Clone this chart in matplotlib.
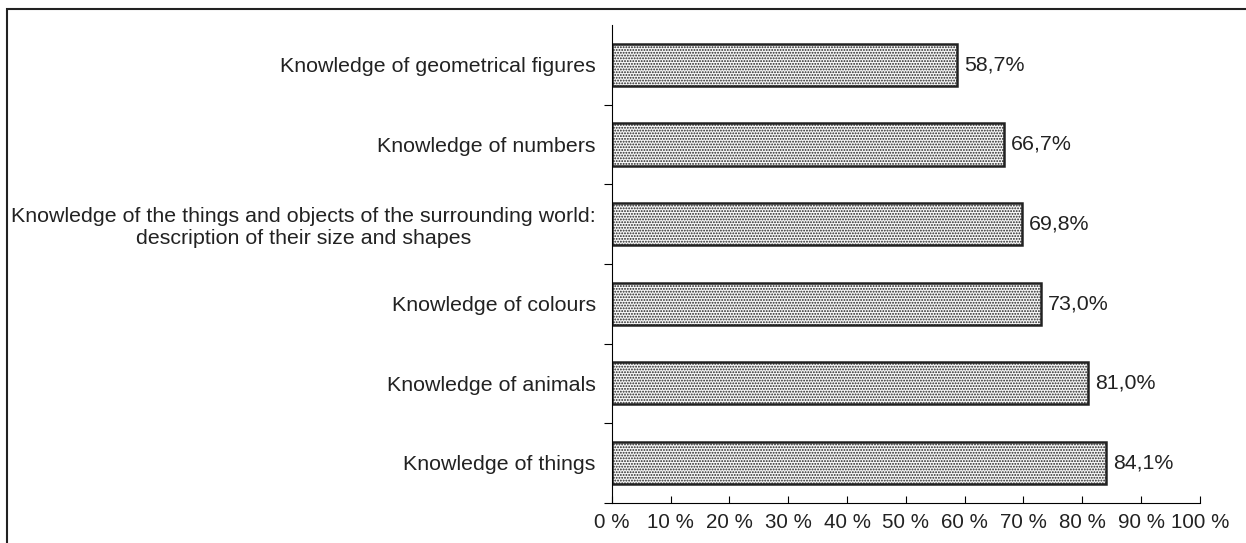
import numpy as np
import matplotlib.pyplot as plt
from matplotlib.patches import Rectangle

plt.rcParams['font.family'] = ['Liberation Sans', 'DejaVu Sans']
plt.rcParams['hatch.color'] = '#7a7a7a'
plt.rcParams['hatch.linewidth'] = 0.9

categories = ['Knowledge of geometrical figures',
              'Knowledge of numbers',
              'Knowledge of the things and objects of the surrounding world:\ndescription of their size and shapes',
              'Knowledge of colours',
              'Knowledge of animals',
              'Knowledge of things']
values = [58.7, 66.7, 69.8, 73.0, 81.0, 84.1]
labels = ['58,7%', '66,7%', '69,8%', '73,0%', '81,0%', '84,1%']
xticks = [0, 10, 20, 30, 40, 50, 60, 70, 80, 90, 100]

fs = 15.4
fig = plt.figure(figsize=(12.46, 5.43), dpi=100)
ax = fig.add_axes([0.491, 0.074, 0.472, 0.880])

y = np.arange(len(categories))[::-1]
ax.barh(y, values, height=0.53, color='#f6f6f6', edgecolor='#222222',
        linewidth=1.8, hatch='......')
for yi, v, t in zip(y, values, labels):
    ax.text(v + 1.2, yi, t, va='center', ha='left', fontsize=fs, color='#222222')

ax.set_xlim(0, 100)
ax.set_ylim(-0.5, len(categories) - 0.5)
ax.set_xticks(xticks)
ax.set_xticklabels([f'{t} %' for t in xticks], fontsize=fs - 0.6, color='#222222')
ax.set_yticks(y)
ax.set_yticklabels(categories, fontsize=fs, color='#222222')
for lab in ax.get_yticklabels():
    lab.set_multialignment('center')
ax.tick_params(axis='y', which='major', length=0, pad=11.5)
ax.set_yticks(np.arange(len(categories)) - 0.5, minor=True)
ax.tick_params(axis='y', which='minor', length=6, direction='out', width=0.8)
ax.tick_params(axis='x', direction='in', length=5, width=0.8, pad=7)
ax.spines['top'].set_visible(False)
ax.spines['right'].set_visible(False)
ax.spines['left'].set_linewidth(0.8)
ax.spines['bottom'].set_linewidth(0.8)

fig.patches.append(Rectangle((7 / 1246, -0.2), 1.2, 1.2 - 9 / 543,
                             transform=fig.transFigure, fill=False,
                             edgecolor='#222222', linewidth=1.5))

fig.savefig('out.png', dpi=100)
